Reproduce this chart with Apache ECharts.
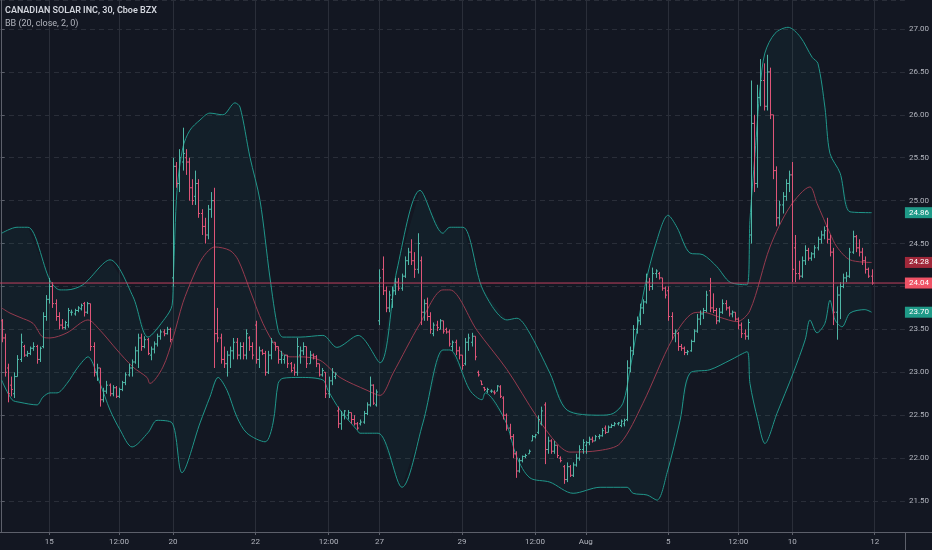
<!DOCTYPE html>
<html>
<head>
<meta charset="utf-8">
<script src="https://cdn.jsdelivr.net/npm/echarts@6/dist/echarts.min.js"></script>
<style>
  html, body { margin: 0; padding: 0; background: #131722; }
  #main { width: 932px; height: 550px; }
</style>
</head>
<body>
<div id="main"></div>
<script>
// 30 min bars, [open, high, low, close], one row per bar (Jul 13 -> Aug 11)
const ohlc = [
  [23.6,23.62,23.35,23.4],[23.4,23.45,22.95,23.0],[23.05,23.1,22.65,22.75],[22.85,22.95,22.72,22.8],
  [22.75,23.0,22.7,22.95],[22.95,23.2,22.95,23.15],[23.15,23.45,23.12,23.35],[23.3,23.32,23.18,23.2],
  [23.2,23.25,23.18,23.22],[23.22,23.3,23.2,23.28],[23.28,23.35,23.25,23.3],[23.3,23.32,23.1,23.15],
  [23.15,23.3,23.12,23.28],[23.3,23.7,23.28,23.65],[23.65,23.9,23.6,23.85],
  // Jul 15
  [23.85,24.1,23.8,24.0],[24.0,24.05,23.75,23.8],[23.8,23.85,23.6,23.65],[23.65,23.7,23.5,23.55],
  [23.55,23.62,23.5,23.52],[23.52,23.6,23.5,23.58],[23.55,23.75,23.52,23.72],[23.7,23.73,23.66,23.7],
  [23.68,23.74,23.66,23.72],[23.72,23.77,23.7,23.75],[23.74,23.8,23.72,23.78],[23.8,23.82,23.65,23.7],
  [23.7,23.82,23.68,23.8],
  // Jul 16
  [23.8,23.8,23.25,23.3],[23.3,23.35,22.95,23.0],[23.0,23.1,22.9,23.05],[23.05,23.05,22.6,22.68],
  [22.68,22.82,22.65,22.78],[22.78,22.9,22.75,22.85],[22.85,22.87,22.72,22.75],[22.75,22.85,22.72,22.82],
  [22.82,22.84,22.7,22.72],[22.72,22.82,22.7,22.8],[22.8,22.9,22.78,22.88],[22.88,23.0,22.85,22.97],
  [22.97,23.1,22.95,23.05],
  // Jul 17
  [23.05,23.15,22.95,23.12],[23.12,23.3,23.1,23.25],[23.25,23.45,23.05,23.4],[23.4,23.45,23.25,23.3],
  [23.3,23.42,23.28,23.38],[23.38,23.4,23.2,23.22],[23.2,23.3,23.14,23.27],[23.27,23.36,23.22,23.33],
  [23.33,23.45,23.3,23.42],[23.42,23.5,23.38,23.47],[23.47,23.5,23.42,23.45],[23.45,23.53,23.44,23.5],
  [23.5,23.52,23.35,23.38],
  // Jul 20
  [24.1,25.5,24.0,25.4],[25.4,25.45,25.15,25.2],[25.2,25.6,25.1,25.5],[25.45,25.85,25.35,25.55],
  [25.5,25.6,25.3,25.45],[25.45,25.5,25.0,25.15],[25.15,25.25,24.95,25.0],[25.05,25.35,24.95,25.2],
  [25.2,25.25,24.8,24.85],[24.85,24.9,24.6,24.7],[24.7,24.8,24.5,24.6],[24.6,24.95,24.55,24.9],
  [24.9,25.1,24.8,25.0],
  // Jul 21
  [25.0,25.15,23.05,23.45],[23.45,23.75,23.35,23.4],[23.4,23.45,23.1,23.15],[23.15,23.3,23.05,23.1],
  [23.1,23.25,22.95,23.2],[23.2,23.3,23.05,23.25],[23.25,23.4,23.15,23.35],[23.35,23.4,23.15,23.2],
  [23.2,23.35,23.15,23.3],[23.3,23.35,23.15,23.2],[23.2,23.5,23.15,23.45],[23.4,23.42,23.25,23.3],
  [23.3,23.35,23.15,23.2],
  // Jul 22
  [23.55,23.6,23.1,23.15],[23.15,23.3,23.05,23.25],[23.25,23.27,23.2,23.22],[23.22,23.25,22.96,23.0],
  [23.0,23.25,22.98,23.2],[23.2,23.4,23.15,23.35],[23.35,23.35,23.25,23.3],[23.3,23.3,23.1,23.15],
  [23.15,23.25,23.1,23.2],[23.15,23.2,23.1,23.2],[23.2,23.2,23.05,23.1],[23.1,23.12,23.0,23.02],
  [23.05,23.1,22.96,23.0],
  // Jul 23
  [23.0,23.4,22.96,23.3],[23.2,23.3,23.1,23.25],[23.25,23.35,23.2,23.3],[23.3,23.3,23.05,23.1],
  [23.1,23.25,23.1,23.2],[23.2,23.22,23.15,23.18],[23.18,23.2,23.06,23.1],[23.1,23.1,22.95,22.97],
  [22.97,23.05,22.95,23.02],[23.0,23.0,22.7,22.75],[22.75,22.95,22.7,22.9],[22.9,23.05,22.85,23.0],
  [22.95,23.0,22.92,22.98],
  // Jul 24
  [22.55,22.6,22.35,22.4],[22.4,22.55,22.33,22.5],[22.5,22.56,22.45,22.55],[22.5,22.56,22.45,22.53],
  [22.53,22.53,22.4,22.45],[22.45,22.5,22.38,22.4],[22.4,22.42,22.33,22.35],[22.4,22.45,22.38,22.42],
  [22.42,22.55,22.4,22.52],[22.52,22.65,22.5,22.62],[22.62,22.95,22.6,22.85],[22.85,22.86,22.62,22.64],
  [22.62,22.8,22.6,22.77],
  // Jul 27
  [23.6,24.2,23.55,24.1],[24.2,24.35,23.9,23.95],[23.95,24.0,23.7,23.75],[23.75,23.95,23.7,23.9],
  [23.85,24.0,23.75,23.95],[23.95,24.1,23.9,24.05],[24.05,24.1,23.95,23.98],[23.98,24.15,23.95,24.12],
  [24.12,24.35,24.1,24.3],[24.3,24.45,24.25,24.4],[24.4,24.55,24.25,24.3],[24.3,24.4,24.1,24.2],
  [24.2,24.62,24.15,24.5],
  // Jul 28
  [24.3,24.35,23.55,23.7],[23.7,23.85,23.6,23.8],[23.8,23.87,23.6,23.65],[23.65,23.7,23.45,23.5],
  [23.45,23.58,23.42,23.55],[23.55,23.6,23.48,23.52],[23.5,23.62,23.5,23.6],[23.6,23.6,23.45,23.48],
  [23.5,23.52,23.45,23.47],[23.47,23.5,23.3,23.33],[23.3,23.37,23.25,23.35],[23.35,23.38,23.2,23.25],
  [23.25,23.3,23.15,23.2],
  // Jul 29
  [23.2,23.2,23.03,23.08],[23.1,23.4,23.08,23.35],[23.35,23.45,23.25,23.4],[23.35,23.46,23.3,23.42],
  [23.42,23.42,23.14,23.18],[23.0,23.02,22.95,22.97],[22.9,22.9,22.85,22.86],[22.82,22.83,22.78,22.8],
  [22.78,22.82,22.76,22.8],[22.78,22.8,22.76,22.78],[22.77,22.79,22.74,22.76],[22.78,22.85,22.78,22.84],
  [22.83,22.85,22.7,22.72],
  // Jul 30
  [22.7,22.72,22.45,22.5],[22.5,22.52,22.32,22.35],[22.35,22.4,22.22,22.25],[22.25,22.28,22.0,22.05],
  [22.05,22.08,21.77,21.85],[21.85,22.0,21.83,21.97],[21.97,22.03,21.95,22.02],[22.02,22.05,22.0,22.03],
  [22.05,22.1,22.05,22.08],[22.2,22.27,22.2,22.25],[22.25,22.28,22.23,22.27],[22.3,22.5,22.28,22.45],
  [22.4,22.6,22.38,22.55],
  // Jul 31
  [22.62,22.65,21.93,22.1],[22.1,22.25,22.05,22.2],[22.2,22.22,22.05,22.08],[22.08,22.2,22.05,22.15],
  [22.15,22.15,22.0,22.03],[22.0,22.02,21.95,21.97],[21.9,21.92,21.7,21.75],[21.75,21.95,21.72,21.9],
  [21.9,21.92,21.78,21.8],[21.8,21.95,21.78,21.92],[21.92,22.05,21.9,22.0],[22.0,22.15,21.97,22.1],
  [22.1,22.22,22.05,22.18],
  // Aug 3
  [22.15,22.2,22.05,22.18],[22.18,22.25,22.15,22.22],[22.22,22.25,22.18,22.2],[22.2,22.27,22.2,22.25],
  [22.25,22.28,22.22,22.26],[22.26,22.35,22.25,22.32],[22.35,22.38,22.28,22.3],[22.3,22.38,22.3,22.36],
  [22.36,22.4,22.35,22.38],[22.38,22.42,22.37,22.4],[22.4,22.42,22.38,22.41],[22.38,22.45,22.36,22.43],
  [22.4,22.46,22.37,22.44],
  // Aug 4
  [22.45,23.14,22.43,23.05],[23.05,23.3,23.0,23.25],[23.25,23.55,23.2,23.5],[23.5,23.65,23.45,23.6],
  [23.6,23.8,23.55,23.75],[23.75,23.85,23.68,23.82],[23.82,24.15,23.8,24.05],[24.05,24.1,23.95,24.0],
  [24.0,24.22,23.96,24.15],[24.15,24.2,24.1,24.18],[24.15,24.17,24.08,24.1],[24.1,24.1,23.95,23.98],
  [23.98,24.0,23.86,23.9],
  // Aug 5
  [23.95,24.0,23.6,23.65],[23.65,23.7,23.38,23.45],[23.45,23.5,23.35,23.48],[23.45,23.47,23.25,23.3],
  [23.3,23.33,23.25,23.28],[23.28,23.3,23.2,23.23],[23.23,23.26,23.2,23.24],[23.25,23.38,23.24,23.36],
  [23.36,23.5,23.35,23.48],[23.48,23.68,23.46,23.62],[23.62,23.72,23.55,23.68],[23.68,23.75,23.62,23.72],
  [23.72,23.95,23.7,23.9],
  // Aug 6
  [23.95,24.1,23.7,23.75],[23.75,23.92,23.69,23.72],[23.72,23.75,23.56,23.6],[23.6,23.75,23.58,23.7],
  [23.7,23.85,23.68,23.8],[23.8,23.84,23.72,23.75],[23.75,23.77,23.65,23.68],[23.68,23.72,23.64,23.7],
  [23.7,23.7,23.6,23.62],[23.62,23.64,23.5,23.55],[23.55,23.58,23.4,23.45],[23.45,23.5,23.38,23.42],
  [23.42,23.62,23.38,23.58],
  // Aug 7
  [24.6,26.4,24.5,25.9],[25.9,26.0,25.1,25.2],[25.2,26.35,25.15,26.2],[26.2,26.65,26.1,26.4],
  [26.4,26.6,26.05,26.1],[26.1,26.7,26.05,26.5],[26.5,26.55,25.95,26.0],[26.0,26.0,25.25,25.35],
  [25.35,25.4,24.7,24.8],[24.8,25.0,24.72,24.95],[24.95,25.1,24.85,25.05],[25.05,25.25,25.0,25.2],
  [25.2,25.35,25.1,25.3],
  // Aug 10
  [25.3,25.45,24.05,24.2],[24.45,24.6,24.05,24.15],[24.15,24.3,24.08,24.12],[24.12,24.35,24.1,24.3],
  [24.3,24.48,24.25,24.42],[24.42,24.45,24.3,24.33],[24.33,24.4,24.3,24.38],[24.38,24.48,24.33,24.45],
  [24.45,24.58,24.42,24.55],[24.55,24.65,24.5,24.6],[24.6,24.7,24.55,24.65],[24.7,24.8,24.5,24.55],
  [24.55,24.6,24.35,24.4],
  // Aug 11
  [24.4,24.45,23.55,23.7],[23.7,24.0,23.38,23.9],[23.9,24.05,23.62,24.0],[24.0,24.15,23.98,24.1],
  [24.1,24.17,24.05,24.12],[24.12,24.45,24.1,24.4],[24.4,24.65,24.38,24.58],[24.58,24.6,24.4,24.45],
  [24.45,24.55,24.35,24.4],[24.4,24.45,24.25,24.3],[24.3,24.35,24.15,24.2],[24.2,24.22,24.1,24.12],
  [24.12,24.2,24.02,24.04]
];

// Bollinger bands, [bar position, price]
const upperBand = [
  [0,24.62],[4.85,24.69],[8.3,24.69],[15.25,24.07],[18.4,23.96],[20.6,23.96],[25.6,24.02],[34.15,24.31],
  [41.4,23.88],[46.1,23.41],[51.5,23.63],[53.7,23.78],[54.1,24.1],[55.25,25.12],[57.1,25.62],[59.3,25.82],
  [62.5,25.94],[65.6,26.02],[69.7,26.0],[73.5,26.14],[75.1,26.09],[78.2,25.51],[81.4,25.0],[84.5,24.11],
  [87.1,23.49],[88.6,23.41],[94,23.41],[101.2,23.43],[105.6,23.29],[112.3,23.43],[119.2,23.11],[124.5,24.19],
  [131.8,25.12],[139,24.62],[141.2,24.69],[145.3,24.69],[151.6,23.96],[159.2,23.61],[162.3,23.63],[165.8,23.49],
  [172.7,22.99],[178.1,22.56],[188.5,22.5],[192.6,22.52],[195.7,22.64],[197.9,23.03],[202.6,24.0],[206.4,24.54],
  [209.9,24.83],[212.7,24.69],[216.8,24.39],[220.9,24.37],[225.3,24.23],[229.4,24.05],[234.8,24.02],[235.7,24.77],
  [237.3,25.55],[238.9,26.32],[240.4,26.72],[243.6,26.95],[247.7,27.02],[251.5,26.91],[255.3,26.67],[257.1,26.6],
  [259.3,26.09],[260.9,25.55],[264.1,25.32],[267.2,24.87],[274,24.86]
];
const basisLine = [
  [0,23.75],[2.65,23.69],[5.8,23.64],[9.9,23.57],[13.0,23.41],[15.25,23.4],[20.6,23.46],[27.2,23.61],
  [31,23.49],[36.35,23.26],[41.4,23.06],[45.8,22.94],[46.7,22.87],[50.8,23.06],[54,23.4],[57.1,23.81],
  [60.3,24.11],[63.4,24.34],[67.2,24.46],[71.9,24.42],[74.5,24.31],[78.2,23.96],[82.3,23.57],[86.7,23.29],
  [90.8,23.18],[94,23.18],[100.3,23.14],[106.6,22.94],[115.1,22.79],[119.2,22.73],[123.3,22.99],[131.8,23.57],
  [139,23.96],[141.2,23.96],[149.7,23.49],[159.2,23.03],[168.6,22.48],[174.9,22.17],[179,22.07],[188.5,22.09],
  [194.8,22.17],[202,22.64],[211.2,23.38],[217.8,23.69],[220.9,23.7],[226.3,23.64],[231.6,23.59],[235.7,23.72],
  [242,24.46],[248.3,24.93],[254.6,25.16],[256.8,24.97],[260.9,24.62],[263.1,24.46],[267.2,24.31],[274,24.28]
];
const lowerBand = [
  [0,22.91],[3.3,22.68],[5.8,22.65],[11.15,22.62],[13.0,22.71],[15.25,22.76],[17.45,22.76],[20.6,22.87],
  [24.07,23.06],[27.2,23.18],[31,22.87],[34.15,22.56],[37.3,22.33],[41.1,22.13],[46.2,22.3],[48.95,22.44],
  [53.7,22.41],[56.8,21.83],[62.5,22.41],[65.6,22.71],[68.2,22.94],[71,22.79],[74.1,22.48],[77.3,22.29],
  [83,22.19],[85.5,22.41],[87.1,22.87],[88.6,22.93],[94,22.94],[101.2,22.91],[102.8,22.79],[106.6,22.56],
  [111.9,22.33],[112.9,22.29],[118.6,22.29],[126.1,21.66],[132.7,22.41],[139,23.26],[141.2,23.26],[147.5,22.79],
  [151.3,22.68],[152.3,22.76],[158.6,22.44],[162.3,22.01],[166.4,21.77],[172.7,21.72],[180,21.59],[188.5,21.66],
  [197,21.66],[198.9,21.59],[203.3,21.57],[206.4,21.51],[209.6,21.83],[213.7,22.44],[216.8,22.99],[223.1,23.03],
  [229.4,23.14],[234.8,23.24],[235.7,22.87],[238.2,22.44],[240.4,22.17],[244.2,22.52],[249.3,22.99],[253.1,23.38],
  [254.6,23.61],[256.8,23.46],[259.3,23.57],[260.9,23.84],[262.5,23.61],[264.7,23.53],[267.2,23.69],[271.9,23.73],
  [274,23.7]
];

// time scale labels (bar slot -> text)
const tickIdx  = [15, 37, 54, 80, 103, 119, 145, 168, 184, 210, 232, 249, 275];
const tickText = ['15', '12:00', '20', '22', '12:00', '27', '29', '12:00', 'Aug', '5', '12:00', '10', '12'];
const slotCount = 285;   // bars + empty space on the right

// price tags on the right scale
const tagValues = [24.86, 24.28, 24.04, 23.70];
const tagColors = ['#1f9a88', '#a0283a', '#ef5366', '#1f9a88'];
const lastPrice = 24.04;

const upColor = '#4fb6a6';
const downColor = '#de5578';
const font = 'Roboto, "Noto Sans", sans-serif';

const chart = echarts.init(document.getElementById('main'));
const slots = Array.from({ length: slotCount }, (_, i) => String(i));
const isTick = (i) => tickIdx.indexOf(i) >= 0;

function renderBar(params, api) {
  const i = api.value(0);
  const pO = api.coord([i, api.value(1)]);
  const pH = api.coord([i, api.value(2)]);
  const pL = api.coord([i, api.value(3)]);
  const pC = api.coord([i, api.value(4)]);
  const x = Math.round(pO[0]) + 0.5;
  let top = pH[1], bot = pL[1];
  if (bot - top < 1.5) { top -= 0.75; bot += 0.75; }
  const color = api.value(4) >= api.value(1) ? upColor : downColor;
  const st = { stroke: color, lineWidth: 1 };
  return {
    type: 'group',
    children: [
      { type: 'line', shape: { x1: x, y1: top, x2: x, y2: bot }, style: st },
      { type: 'line', shape: { x1: x - 1.5, y1: pO[1], x2: x, y2: pO[1] }, style: st },
      { type: 'line', shape: { x1: x, y1: pC[1], x2: x + 1.5, y2: pC[1] }, style: st }
    ]
  };
}

function renderFill(params, api) {
  const pts = upperBand.map(p => api.coord(p))
    .concat(lowerBand.slice().reverse().map(p => api.coord(p)));
  return { type: 'polygon', shape: { points: pts }, style: { fill: 'rgba(38,166,154,0.06)' } };
}

const option = {
  backgroundColor: '#131722',
  animation: false,
  textStyle: { fontFamily: font },
  title: {
    text: 'CANADIAN SOLAR INC, 30, Cboe BZX',
    subtext: 'BB (20, close, 2, 0)',
    left: 0, top: 0, itemGap: 2, padding: [5, 5],
    textStyle: { color: '#d1d4dc', fontSize: 9, fontWeight: 600, fontFamily: font, lineHeight: 11 },
    subtextStyle: { color: '#b2b5be', fontSize: 9, fontFamily: font, lineHeight: 11 }
  },
  grid: { left: 0, right: 27, top: 0, bottom: 18 },
  xAxis: [
    {
      type: 'category', data: slots, boundaryGap: true,
      axisLine: { lineStyle: { color: '#5d606b' } },
      axisTick: { show: true, interval: (i) => isTick(i), alignWithLabel: true, length: 3, lineStyle: { color: '#5d606b' } },
      axisLabel: {
        interval: (i) => isTick(i),
        formatter: (v, i) => tickText[tickIdx.indexOf(i)] || '',
        color: '#b2b5be', fontSize: 8, margin: 6, fontFamily: font
      },
      splitLine: { show: true, interval: (i) => isTick(i), alignWithLabel: true, lineStyle: { color: '#2a2e39', width: 1 } }
    },
    { type: 'value', min: -0.5, max: slotCount - 0.5, show: false }
  ],
  yAxis: {
    type: 'value', position: 'right',
    min: 21.139, max: 27.338, splitNumber: 12, minInterval: 0.5, maxInterval: 0.5,
    axisLine: { show: true, lineStyle: { color: '#5d606b' } },
    axisTick: { show: true, length: 3, lineStyle: { color: '#5d606b' } },
    axisLabel: {
      showMinLabel: false, showMaxLabel: false,
      formatter: (v) => v.toFixed(2),
      color: '#b2b5be', fontSize: 8, margin: 4, fontFamily: font
    },
    splitLine: { lineStyle: { color: '#2a2e39', type: [5, 4] } }
  },
  series: [
    { type: 'custom', xAxisIndex: 1, data: [0], silent: true, z: 1, renderItem: renderFill },
    {
      type: 'line', xAxisIndex: 1, data: upperBand, smooth: 0.3, showSymbol: false, silent: true, z: 2,
      lineStyle: { color: '#20968a', width: 1 }
    },
    {
      type: 'line', xAxisIndex: 1, data: lowerBand, smooth: 0.3, showSymbol: false, silent: true, z: 2,
      lineStyle: { color: '#20968a', width: 1 }
    },
    {
      type: 'line', xAxisIndex: 1, data: basisLine, smooth: 0.3, showSymbol: false, silent: true, z: 2,
      lineStyle: { color: '#953a4e', width: 1 },
      markLine: {
        silent: true, symbol: ['none', 'none'], animation: false,
        lineStyle: { color: 'rgba(0,0,0,0)', width: 0 },
        label: {
          show: true, position: 'end', distance: 0,
          formatter: (p) => p.value.toFixed(2),
          color: '#ffffff', fontSize: 8, padding: [2, 5, 1, 4], fontFamily: font
        },
        data: tagValues.map((v, k) => ({ yAxis: v, label: { backgroundColor: tagColors[k] } }))
      }
    },
    {
      // last price line across the chart
      type: 'line', xAxisIndex: 1, z: 4, silent: true, showSymbol: false,
      data: [[-0.5, lastPrice], [slotCount - 0.5, lastPrice]],
      lineStyle: { color: '#c0415f', width: 1, type: 'solid' }
    },
    {
      type: 'custom', xAxisIndex: 0, z: 3, silent: true,
      renderItem: renderBar,
      dimensions: ['i', 'open', 'high', 'low', 'close'],
      encode: { x: 0, y: [1, 2, 3, 4] },
      data: ohlc.map((r, i) => [i].concat(r))
    }
  ],
  graphic: [
    { type: 'line', silent: true, shape: { x1: 905.5, y1: 532, x2: 905.5, y2: 550 }, style: { stroke: '#5d606b', lineWidth: 1 } },
    { type: 'line', silent: true, shape: { x1: 905, y1: 532.5, x2: 932, y2: 532.5 }, style: { stroke: '#5d606b', lineWidth: 1 } }
  ]
};

chart.setOption(option);
</script>
</body>
</html>
